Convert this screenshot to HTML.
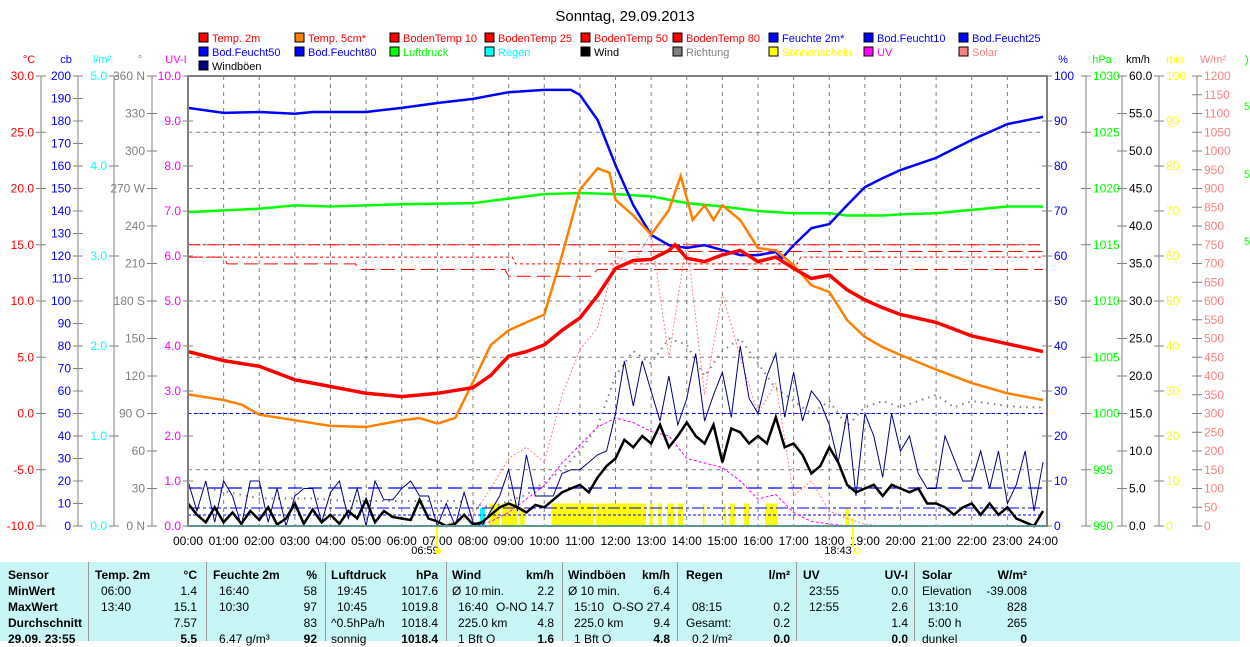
<!DOCTYPE html>
<html><head><meta charset="utf-8">
<style>
html,body{margin:0;padding:0;background:#fff;}
body{width:1250px;height:641px;overflow:hidden;position:relative;font-family:"Liberation Sans",sans-serif;}
svg{position:absolute;left:0;top:0;}
text{font-family:"Liberation Sans",sans-serif;}
.tb{position:absolute;left:0;top:562px;width:1240px;height:79px;background:#c8f6f6;}
.c{position:absolute;font-family:"Liberation Sans Narrow","Liberation Sans",sans-serif;font-size:12px;white-space:nowrap;line-height:16px;}
.h{font-weight:bold;}
.sep{position:absolute;top:0;width:1px;height:79px;background:#999;}
</style></head>
<body>
<svg id="chart" width="1250" height="641"></svg>
<div class="tb" id="tbl"></div>
<script>
// ---- data ----
const t2Time=[0,1,2,3,4,5,6,7,8,8.5,9,9.5,10,10.5,11,11.5,12,12.5,13,13.5,13.67,14,14.5,15,15.5,16,16.5,17,17.5,18,18.5,19,19.5,20,21,22,23,24];
const t2Val=[5.5,4.7,4.2,3.0,2.4,1.8,1.5,1.8,2.3,3.4,5.1,5.5,6.1,7.4,8.5,10.5,12.9,13.6,13.7,14.5,15.0,13.8,13.5,14.1,14.5,13.5,13.9,12.9,12.0,12.3,11.0,10.1,9.4,8.8,8.1,6.9,6.2,5.5];
const t5Time=[0,1,1.5,2,3,4,5,6,6.5,7,7.5,8,8.5,9,9.5,10,10.5,11,11.5,11.83,12,12.5,13,13.5,13.83,14.17,14.5,14.75,15,15.5,16,16.5,17,17.5,18,18.5,19,19.5,20,21,22,23,24];
const t5Val=[1.7,1.2,0.8,-0.1,-0.6,-1.1,-1.2,-0.6,-0.4,-0.9,-0.4,2.8,6.1,7.4,8.1,8.8,14.1,19.9,21.8,21.4,19.0,17.6,15.9,18.1,21.1,17.2,18.5,17.2,18.5,17.2,14.7,14.5,13.2,11.4,10.8,8.3,6.8,5.9,5.2,3.9,2.7,1.8,1.2];
const rhTime=[0,1,2,3,3.5,5,6,7,8,9,10,10.75,11,11.5,12,12.5,13,13.5,14,14.5,15,15.5,16,16.5,16.67,17,17.5,18,18.5,19,19.5,20,21,22,23,24];
const rhVal=[92.9,91.8,92.0,91.6,92.0,92.0,92.9,94.0,94.9,96.4,96.9,96.9,95.8,90.2,80.2,71.3,64.7,62.4,61.8,62.4,61.3,60.2,60.2,60.9,59.5,62.4,66.2,67.1,71.3,75.3,77.3,79.1,81.8,85.8,89.3,90.9];
const pTime=[0,2,3,4,6,8,9,10,11,12,13,14,15,16,17,18,18.5,19.5,20,21,22,23,24];
const pVal=[1017.9,1018.2,1018.5,1018.4,1018.6,1018.7,1019.1,1019.5,1019.6,1019.5,1019.3,1018.7,1018.4,1018.0,1017.8,1017.8,1017.6,1017.6,1017.7,1017.8,1018.1,1018.4,1018.4];
const windVal=[3.0,1.5,0.5,2.5,0.5,1.8,0.3,2.0,0.8, 2.5,0.2,1.0,3.0,0.3,2.2,0.5,1.5, 0.3,2.0,1.0,3.5,0.5,2.0,1.2,1.0, 0.8,3.5,1.0,0.6,0.0,0.3,1.5,0.2, 0.5,1.5,2.5,3.0,2.5,1.8,2.8,2.5, 3.5,4.5,5.0,5.5,4.5,6.5,8.0,9.0, 11.5,10.5,12.0,11.0,13.5,10.5,12.0,13.8, 12.0,11.0,13.5,8.5,13.0,12.5,11.0,12.0, 11.0,14.5,10.5,11.0,9.5,7.0,8.0,10.5, 8.5,5.5,4.5,5.0,5.5,4.0,5.5,5.0, 4.5,5.0,3.0,3.0,2.5,1.5,2.5,3.0, 1.5,3.0,1.5,2.5,1.0,0.5,0.0,2.0];
const gustVal=[6.0,2.0,6.0,0.5,6.0,4.0,0.0,6.0,6.0, 0.5,5.0,0.0,4.0,5.0,5.0,0.5,4.5, 6.0,1.0,5.0,0.0,6.0,3.5,3.5,5.0, 6.0,4.0,4.0,0.0,3.0,0.0,4.5,0.5, 0.0,2.0,4.0,7.5,2.0,9.5,4.0,4.0, 4.0,7.0,7.5,7.5,8.5,9.5,10.0,15.0, 22.0,16.0,22.0,18.0,14.0,20.0,13.5,17.0, 23.0,14.0,17.5,20.5,14.5,24.0,17.0,15.0, 20.0,23.0,14.5,20.5,14.0,18.0,16.5,13.5, 8.5,15.0,4.0,15.0,12.0,6.5,15.0,10.0, 12.0,7.0,5.0,5.0,12.0,9.0,6.0,6.0, 10.0,5.0,10.0,3.0,5.5,10.0,2.0,8.5];
const dirVal=[30,30,28,25,22, 22,22,22,21, 20,20,20,20, 20,20,20,18, 15,20,25,35, 45,60,80,120, 140,130,150,145, 120,140,150,130, 110,100,90,100, 80,95,100,95, 100,105,95,100, 98,96,95,95];
const solarVal=[0,0,0,0,0,0,0,0,0,0,0,0,0,0,0, 10,30,100,180,210,170,350,470,530,720,700,780,450,760,350,620,450,300,380,80,120,40,20,5, 0,0,0,0,0,0,0,0,0,0];
const uvVal=[0,0,0,0,0,0,0,0,0,0,0,0,0,0,0,0,0, 0.1,0.3,0.6,0.9,1.4,1.8,2.2,2.4,2.3,2.1,2.0,1.5,1.4,1.3,1.0,0.6,0.7,0.3,0.1,0.05, 0,0,0,0,0,0,0,0,0,0,0,0];
const sunStart=[8.45,8.8,9.3,10.2,11.45,12.95,13.2,13.45,13.75,14.45,15.05,15.2,15.6,16.2,18.45];
const sunEnd=[8.75,9.25,9.45,11.4,12.85,13.05,13.3,13.65,13.9,14.5,15.1,15.35,15.75,16.55,18.55];
const sunMin=[5,5,4,5,5,5,5,5,5,5,5,5,5,5,4];
const rainTime=[8.25];
const rainVal=[0.2];
const hourLabels=["00:00","01:00","02:00","03:00","04:00","05:00","06:00","07:00","08:00","09:00","10:00","11:00","12:00","13:00","14:00","15:00","16:00","17:00","18:00","19:00","20:00","21:00","22:00","23:00","24:00"];

// ---- axes ----
const X0=188,X1=1043,Y0=76,Y1=526;
const xs=h=>X0+h*(X1-X0)/24;
const lin=(a,b)=>v=>Y1-(v-a)/(b-a)*(Y1-Y0);
const yT=lin(-10,30),yRH=lin(0,100),yP=lin(990,1030),yW=lin(0,60),yMin=lin(0,100),yS=lin(0,1200),yUV=lin(0,10),yDir=lin(0,360),yCb=lin(0,200),yRain=lin(0,5);

const svg=document.getElementById('chart');
const NS='http://www.w3.org/2000/svg';
function el(tag,attrs,parent){const e=document.createElementNS(NS,tag);for(const k in attrs)e.setAttribute(k,attrs[k]);(parent||svg).appendChild(e);return e;}
function txt(x,y,s,fill,size,anchor,parent){const e=el('text',{x:x,y:y,fill:fill,'font-size':size||11,'text-anchor':anchor||'start'},parent);e.textContent=s;return e;}

let ti=txt(625,21,'Sonntag, 29.09.2013','#000',15,'middle');



const legItems=[['Temp. 2m','#f00','#f00'],['Temp. 5cm*','#ff8000','#f00'],['BodenTemp 10','#f00','#f00'],['BodenTemp 25','#f00','#f00'],['BodenTemp 50','#f00','#f00'],['BodenTemp 80','#f00','#f00'],['Feuchte 2m*','#00f','#00f'],['Bod.Feucht10','#00f','#00f'],['Bod.Feucht25','#00f','#00f'],
['Bod.Feucht50','#00f','#00f'],['Bod.Feucht80','#00f','#00f'],['Luftdruck','#0f0','#0f0'],['Regen','#0ff','#0ff'],['Wind','#000','#000'],['Richtung','#808080','#808080'],['Sonnenschein','#ff0','#ff0'],['UV','#f0f','#f0f'],['Solar','#ff8080','#ff8080'],
['Windböen','#000080','#000']];
const legX=[199,295,390,485,581,673,769,864,959];
legItems.forEach((it,i)=>{
  const g=el('g',{});
  
  
  const cx=legX[i%9],cy=38+Math.floor(i/9)*14;
  el('rect',{x:cx,y:cy-5,width:9,height:9,fill:it[1],stroke:'#000','stroke-width':1},g);
  txt(cx+13,cy+4,it[0],it[2],11,'start',g);
});

function axis(name,lx,title,tcol,vals,yf,fmt,col){
  const g=el('g',{});
  
  
  el('line',{x1:lx,y1:Y0,x2:lx,y2:Y1,stroke:'#808080','stroke-width':1},g);
  txt(lx-12,63,title,tcol,11,'middle',g);
  vals.forEach(v=>{const y=yf(v);el('line',{x1:lx-5,y1:y,x2:lx+5,y2:y,stroke:'#808080'},g);txt(lx-7,y+4,fmt(v),col,12,'end',g);});
}
const rng=(a,b,s)=>{const r=[];for(let v=a;v<=b+1e-9;v+=s)r.push(+v.toFixed(3));return r;};
axis('celsius-axis',41,'°C','#f00',rng(-10,30,5),yT,v=>v.toFixed(1),'#f00');
axis('cb-axis',78,'cb','#00f',rng(0,200,10),yCb,v=>String(v),'#00f');
axis('rain-axis',114,'l/m²','#0ff',rng(0,5,1),yRain,v=>v.toFixed(1),'#0ff');
const dirLab={0:'0   N',90:'90   O',180:'180 S',270:'270 W',360:'360 N'};
axis('direction-axis',152,'°','#808080',rng(0,360,30),yDir,v=>dirLab[v]||String(v),'#808080');
axis('uv-axis',188,'UV-I','#f0f',rng(0,10,1),yUV,v=>v.toFixed(1),'#f0f');
function raxis(name,lx,title,tcol,vals,yf,fmt,col){
  const g=el('g',{});
  
  
  el('line',{x1:lx,y1:Y0,x2:lx,y2:Y1,stroke:'#808080'},g);
  txt(lx+16,63,title,tcol,11,'middle',g);
  vals.forEach(v=>{const y=yf(v);el('line',{x1:lx-5,y1:y,x2:lx+5,y2:y,stroke:'#808080'},g);txt(lx+7,y+4,fmt(v),col,12,'start',g);});
}
raxis('humidity-axis',1047,'%','#00f',rng(0,100,10),yRH,v=>String(v),'#00f');
raxis('pressure-axis',1086,'hPa','#0f0',rng(990,1030,5),yP,v=>String(v),'#0f0');
raxis('wind-speed-axis',1122,'km/h','#000',rng(0,60,5),yW,v=>v.toFixed(1),'#000');
raxis('sunshine-axis',1159,'min','#ff0',rng(0,100,10),yMin,v=>String(v),'#ff0');
raxis('solar-axis',1197,'W/m²','#ff8080',rng(0,1200,50),yS,v=>String(v),'#ff8080');
txt(1245,63,')','#0f0',11);
[110,178,245].forEach(y=>txt(1244,y,'5','#0f0',11));

const grid=el('g',{});


for(let h=1;h<24;h++)el('line',{x1:xs(h),y1:Y0,x2:xs(h),y2:Y1,stroke:'#808080','stroke-dasharray':'4,4'},grid);
for(let v=-5;v<30;v+=5)el('line',{x1:X0,y1:yT(v),x2:X1,y2:yT(v),stroke:'#808080','stroke-dasharray':'4,4'},grid);
hourLabels.forEach((s,i)=>{const t=txt(xs(i),545,s,'#000',12,'middle');});
txt(425,554,'06:59','#000',11,'middle');el('circle',{cx:438,cy:551,r:3,fill:'#ff0'});
el('line',{x1:437,y1:522,x2:437,y2:547,stroke:'#ff0','stroke-width':2});
txt(838,554,'18:43','#000',11,'middle');el('circle',{cx:857,cy:551,r:3,fill:'none',stroke:'#ff0'});
el('line',{x1:853,y1:518,x2:853,y2:547,stroke:'#ff0','stroke-width':2});

function line(name,xsArr,vals,yf,attrs){
  const pts=vals.map((v,i)=>xs(xsArr[i]).toFixed(1)+','+yf(v).toFixed(1)).join(' ');
  const p=el('polyline',Object.assign({points:pts,fill:'none'},attrs));
  
  
  return p;
}
const qT=windVal.map((v,i)=>i/4);
const hT=dirVal.map((v,i)=>i/2);

sunStart.forEach((s,i)=>{const y=yMin(sunMin[i]);const r=el('rect',{x:xs(s),y:y,width:xs(sunEnd[i])-xs(s),height:Y1-y,fill:'#ff0'});

});
rainTime.forEach((t,i)=>{const y=yRain(rainVal[i]);const r=el('rect',{x:xs(t)-2,y:y,width:5,height:Y1-y,fill:'#0ff'});

});

line('bodentemp-80',[0,24],[15.0,15.0],yT,{stroke:'#f00','stroke-width':1,'stroke-dasharray':'12,3,2,3'});
line('bodentemp-50',[0,9.1,9.2,17.1,17.2,24],[13.9,13.9,13.3,13.3,13.9,13.9],yT,{stroke:'#f00','stroke-width':1,'stroke-dasharray':'3,3'});
line('bodentemp-25',[0,1.0,1.1,4.7,4.8,8.9,9.0,11.3,11.5,24],[13.9,13.9,13.3,13.3,12.8,12.8,12.2,12.2,12.8,12.8],yT,{stroke:'#f00','stroke-width':1,'stroke-dasharray':'14,6'});
line('bodentemp-10',[11.8,24],[14.4,14.4],yT,{stroke:'#f00','stroke-width':1,'stroke-dasharray':'14,6'});
line('bod-feucht-10',[0,24],[50,50],yCb,{stroke:'#00f','stroke-width':1,'stroke-dasharray':'3,3'});
line('bod-feucht-25',[0,24],[16.9,16.9],yCb,{stroke:'#00f','stroke-width':1.2,'stroke-dasharray':'14,6'});
line('bod-feucht-50',[0,24],[8,8],yCb,{stroke:'#00f','stroke-width':1,'stroke-dasharray':'12,3,3,3'});
line('bod-feucht-80',[0,24],[4.9,4.9],yCb,{stroke:'#00f','stroke-width':1,'stroke-dasharray':'3,2'});

line('solar-line',hT,solarVal,yS,{stroke:'#ff8080','stroke-width':1,'stroke-dasharray':'2,2'});
line('uv-line',hT,uvVal,yUV,{stroke:'#f0f','stroke-width':1,'stroke-dasharray':'3,2'});
line('direction-line',hT,dirVal,yDir,{stroke:'#808080','stroke-width':2,'stroke-dasharray':'1.5,5'});
line('gust-line',qT,gustVal,yW,{stroke:'#000080','stroke-width':1});
line('wind-line',qT,windVal,yW,{stroke:'#000','stroke-width':2.5});
line('pressure-line',pTime,pVal,yP,{stroke:'#0f0','stroke-width':2.5});
line('humidity-line',rhTime,rhVal,yRH,{stroke:'#00f','stroke-width':2.5});
line('temp-5cm-line',t5Time,t5Val,yT,{stroke:'#ff8000','stroke-width':2.5});
line('temp-2m-line',t2Time,t2Val,yT,{stroke:'#f00','stroke-width':3.5});

const fr=el('rect',{x:X0,y:Y0,width:X1-X0+4,height:Y1-Y0,fill:'none',stroke:'#808080','stroke-width':2});


el('line',{x1:X0,y1:Y1,x2:X1+4,y2:Y1,stroke:'#0cc','stroke-width':1,'stroke-dasharray':'2,2'});

const tbl=document.getElementById('tbl');
function cell(x,row,s,bold,right){const d=document.createElement('div');d.className='c'+(bold?' h':'');d.style.top=(5+row*16)+'px';
 if(right){d.style.right=(1240-x)+'px';}else d.style.left=x+'px';d.textContent=s;tbl.appendChild(d);return d;}
[88,206,325,446,562,677,796,914].forEach(x=>{const s=document.createElement('div');s.className='sep';s.style.left=x+'px';tbl.appendChild(s);});
const cols=[
 [95,197,'Temp. 2m','°C',[['06:00','1.4'],['13:40','15.1'],['','7.57'],['','5.5']]],
 [213,317,'Feuchte 2m','%',[['16:40','58'],['10:30','97'],['','83'],['6.47 g/m³','92']]],
 [331,438,'Luftdruck','hPa',[['19:45','1017.6'],['10:45','1019.8'],['^0.5hPa/h','1018.4'],['sonnig','1018.4']]],
 [452,554,'Wind','km/h',[['Ø 10 min.','2.2'],['16:40','O-NO 14.7'],['225.0 km','4.8'],['1 Bft O','1.6']]],
 [568,670,'Windböen','km/h',[['Ø 10 min.','6.4'],['15:10','O-SO 27.4'],['225.0 km','9.4'],['1 Bft O','4.8']]],
 [686,790,'Regen','l/m²',[['',''],['08:15','0.2'],['Gesamt:','0.2'],['0.2 l/m²','0.0']]],
 [803,908,'UV','UV-I',[['23:55','0.0'],['12:55','2.6'],['','1.4'],['','0.0']]],
 [922,1027,'Solar','W/m²',[['Elevation','-39.008'],['13:10','828'],['5:00 h','265'],['dunkel','0']]]
];
['Sensor','MinWert','MaxWert','Durchschnitt','29.09. 23:55'].forEach((s,i)=>cell(8,i,s,true));
cols.forEach(c=>{cell(c[0],0,c[2],true);cell(c[1],0,c[3],true,true);
 c[4].forEach((r,i)=>{cell(c[0]+(r[0].match(/^\d/)?6:0),i+1,r[0],false);cell(c[1],i+1,r[1],i===3,true);});});
</script>
</body></html>
